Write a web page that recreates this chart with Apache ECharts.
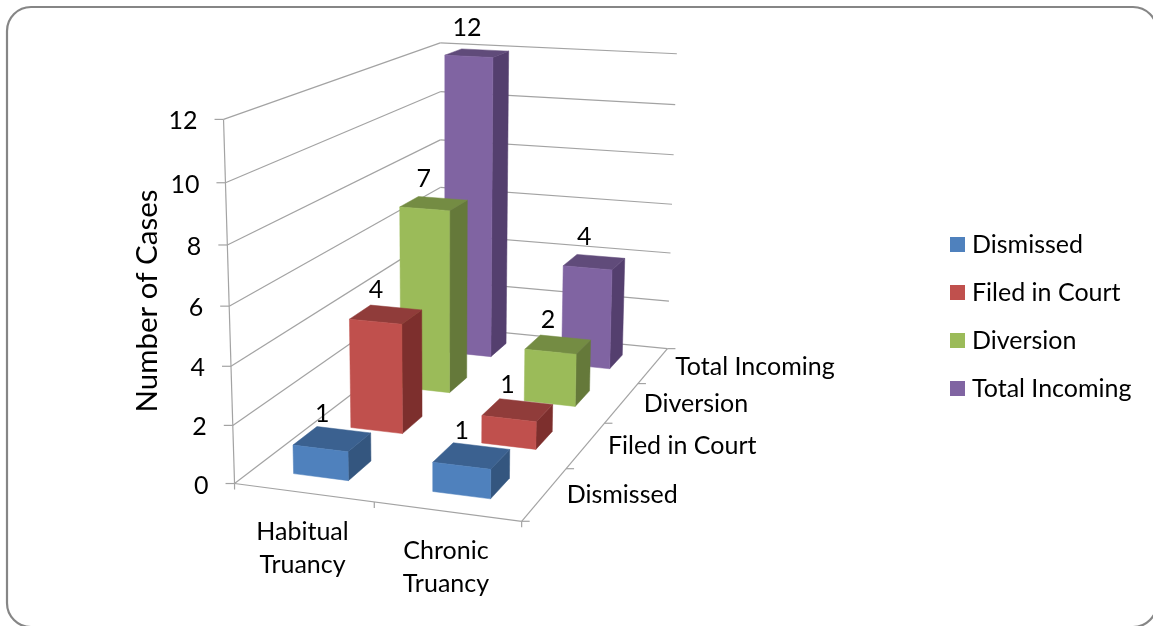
<!DOCTYPE html>
<html><head><meta charset="utf-8">
<style>html,body{margin:0;padding:0;background:#fff}#c{width:1153px;height:626px}</style>
<script src="https://cdn.jsdelivr.net/npm/echarts@6/dist/echarts.min.js"></script>
</head><body><div id="c"></div>
<script>
// ---- data ----
const categories = ['Habitual Truancy', 'Chronic Truancy'];
const categoryLines = ['Habitual\nTruancy', 'Chronic\nTruancy'];
const depthLabels = ['Dismissed', 'Filed in Court', 'Diversion', 'Total Incoming'];
const valueTicks = [0, 2, 4, 6, 8, 10, 12];
const dismissed = [1, 1];
const filedInCourt = [4, 1];
const diversion = [7, 2];
const totalIncoming = [12, 4];
const axisTitle = 'Number of Cases';

// ---- view: a perspective camera fitted to the plot box of the picture ----
const FONT = 'Lato';
const FS = 25;
const anchors = [
  [0,0,0,235,483],[2,0,0,520,521],[2,0,4,665,348],[0,0,4,440,328],
  [0,12,0,223,120],[0,12,0,223,120],[0,12,4,440,42],[2,12,4,677,54],
  [0,6,0,229,306],[2,6,4,672,205],[1,0,0,373,505],
  [2,0,1,567,468],[2,0,2,606,423],[2,0,3,640,383],[0,6,4,441,187],
  [0,2,0,233,424],[0,4,0,231,365],[0,8,0,228,245],[0,10,0,226,183]
];
function fit(pts){
  const n=11, A=Array.from({length:n},()=>new Array(n+1).fill(0));
  const add=(r,b)=>{for(let i=0;i<n;i++){for(let j=0;j<n;j++)A[i][j]+=r[i]*r[j];A[i][n]+=r[i]*b;}};
  pts.forEach(([X,Y,Z,u,v])=>{
    add([X,Y,Z,1,0,0,0,0,-u*X,-u*Y,-u*Z],u);
    add([0,0,0,0,X,Y,Z,1,-v*X,-v*Y,-v*Z],v);
  });
  for(let c=0;c<n;c++){
    let m=c;for(let r=c+1;r<n;r++)if(Math.abs(A[r][c])>Math.abs(A[m][c]))m=r;
    [A[c],A[m]]=[A[m],A[c]];
    for(let r=0;r<n;r++){if(r===c)continue;const f=A[r][c]/A[c][c];for(let k=c;k<=n;k++)A[r][k]-=f*A[c][k];}
  }
  return A.map((row,i)=>row[n]/row[i]);
}
const P=fit(anchors);
function proj(X,Y,Z){
  const w=P[8]*X+P[9]*Y+P[10]*Z+1;
  return [(P[0]*X+P[1]*Y+P[2]*Z+P[3])/w,(P[4]*X+P[5]*Y+P[6]*Z+P[7])/w];
}
const HALF_X=0.2, SHIFT_X=-0.007, HALF_Z=0.2;
const LINE='#a3a3a3';
function line(a,b,w,c){return {type:'line',shape:{x1:a[0],y1:a[1],x2:b[0],y2:b[1]},style:{stroke:c||LINE,lineWidth:w||1.2},silent:true};}
function label(x,y,text,align,extra){
  return {type:'text',silent:true,style:Object.assign({x:x,y:y,text:String(text),fill:'#000',fontFamily:FONT,fontSize:FS,textAlign:align||'center',textVerticalAlign:'middle'},extra||{})};
}
function modelX(api,cat){
  const b=api.size([1,0])[0], p0=api.coord([0,0])[0];
  return (api.coord([cat,0])[0]-(p0-b/2))/b;
}
function modelY(api,val){
  const y0=api.coord([0,0])[1], yMax=api.coord([0,valueTicks[valueTicks.length-1]])[1];
  return valueTicks[valueTicks.length-1]*(y0-api.coord([0,val])[1])/(y0-yMax);
}
function renderFrame(params,api){
  const xN=categories.length, zN=depthLabels.length, kids=[];
  valueTicks.forEach(v=>{
    const y=modelY(api,v), a=proj(0,y,0), b=proj(0,y,zN), c=proj(xN,y,zN);
    kids.push(line(a,b),line(b,c),line([a[0]-9,a[1]],a));
    kids.push(label(a[0]-26,a[1]+2,v,'right'));
  });
  kids.push(line(proj(0,0,0),proj(0,modelY(api,valueTicks[6]),0)));
  kids.push(line(proj(0,0,0),proj(xN,0,0)));
  kids.push(line(proj(xN,0,0),proj(xN,0,zN)));
  for(let i=0;i<=xN;i++){const p=proj(i,0,0);kids.push(line(p,[p[0],p[1]+6]));}
  for(let i=0;i<=zN;i++){const p=proj(xN,0,i);kids.push(line(p,[p[0]+8,p[1]]));}
  categoryLines.forEach((t,i)=>{
    const p=proj(i+0.5,0,0);
    kids.push(label(p[0]-1,p[1]+56,t,'center',{lineHeight:33}));
  });
  depthLabels.forEach((t,i)=>{
    const p=proj(xN,0,i+0.5);
    kids.push(label(p[0]+22,p[1]+1,t,'left'));
  });
  return {type:'group',children:kids};
}
function barRenderer(depth,front,top,side){
  return function(params,api){
    const cat=api.value(0), v=api.value(1);
    const xc=modelX(api,cat)+SHIFT_X, y=modelY(api,v), zc=depth+0.5;
    const x0=xc-HALF_X,x1=xc+HALF_X,z0=zc-HALF_Z,z1=zc+HALF_Z;
    const poly=(pts,fill)=>({type:'polygon',shape:{points:pts},style:{fill:fill,stroke:fill,lineWidth:0.5}});
    const c=proj(xc,y,zc);
    return {type:'group',children:[
      poly([proj(x1,0,z0),proj(x1,0,z1),proj(x1,y,z1),proj(x1,y,z0)],side),
      poly([proj(x0,y,z0),proj(x1,y,z0),proj(x1,y,z1),proj(x0,y,z1)],top),
      poly([proj(x0,0,z0),proj(x1,0,z0),proj(x1,y,z0),proj(x0,y,z0)],front),
      label(c[0]-10,c[1]-25,v,'center')
    ]};
  };
}
function rows(values){return values.map((v,i)=>[i,v]);}
function barSeries(name,values,depth,front,top,side){
  return {name:name,type:'custom',coordinateSystem:'cartesian2d',clip:false,silent:true,
    itemStyle:{color:front},encode:{x:0,y:1},data:rows(values),z:10+(depthLabels.length-depth),
    renderItem:barRenderer(depth,front,top,side)};
}
const chart=echarts.init(document.getElementById('c'),null,{renderer:'canvas',width:1153,height:626});
chart.setOption({
  animation:false,backgroundColor:'#fff',tooltip:{show:false},
  grid:{left:100,right:100,top:100,bottom:100,show:false},
  xAxis:{type:'category',data:categories,show:false},
  yAxis:{type:'value',min:0,max:12,interval:2,show:false},
  legend:{orient:'vertical',left:945,top:227,itemWidth:15,itemHeight:15,itemGap:23,icon:'rect',
    data:depthLabels,textStyle:{fontFamily:FONT,fontSize:FS,color:'#000',padding:[0,0,0,2]}},
  graphic:[
    {type:'rect',z:0,shape:{x:7,y:7,width:1150,height:620,r:24},style:{fill:'#fff',stroke:'#868686',lineWidth:2.2},silent:true},
    {type:'text',z:5,x:147,y:301,rotation:Math.PI/2,style:{text:axisTitle,fontFamily:FONT,fontSize:29.5,fill:'#000',textAlign:'center',textVerticalAlign:'middle'},silent:true}
  ],
  series:[
    {name:'frame',type:'custom',coordinateSystem:'cartesian2d',clip:false,silent:true,z:5,data:[[0,0]],encode:{x:0,y:1},renderItem:renderFrame},
    barSeries(depthLabels[3],totalIncoming,3,'#8064a2','#604b7a','#543f6e'),
    barSeries(depthLabels[2],diversion,2,'#9bbb59','#748c43','#65793a'),
    barSeries(depthLabels[1],filedInCourt,1,'#c0504d','#903c3a','#7d2f2d'),
    barSeries(depthLabels[0],dismissed,0,'#4f81bd','#3b6190','#34567f')
  ]
});
</script></body></html>
